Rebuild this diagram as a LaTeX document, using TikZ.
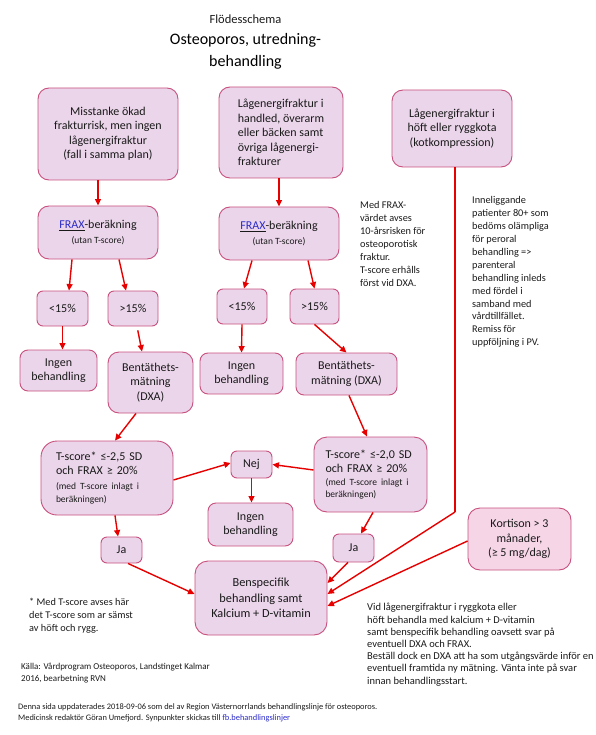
\documentclass[tikz,border=0pt]{standalone}
\usepackage{fontspec}
\setmainfont{Carlito}
\usetikzlibrary{arrows.meta}
\definecolor{boxfill}{HTML}{EBD5EA}
\definecolor{boxfillk}{HTML}{F6D5E7}
\definecolor{boxline}{HTML}{C8507D}
\definecolor{arrred}{HTML}{E60000}
\definecolor{txt}{HTML}{1A1A1A}
\definecolor{linkblue}{HTML}{2B2BC8}
\begin{document}
\begin{tikzpicture}[x=1pt,y=-1pt,
  box/.style={draw=boxline, fill=boxfill, rounded corners=11pt, line width=0.9pt,
    inner sep=0pt, font=\fontsize{12}{14.5}\selectfont, text=txt, align=center},
  sbox/.style={box, rounded corners=6pt},
  arr/.style={draw=arrred, line width=1.4pt, -{Triangle[length=6.5pt,width=6pt]}},
  line/.style={draw=arrred, line width=1.4pt},
  note/.style={font=\fontsize{10.3}{13}\selectfont, align=left, inner sep=0pt, anchor=north west, text=txt},
  small/.style={font=\fontsize{9.5}{13}\selectfont}
]
\useasboundingbox (0,0) rectangle (595,735);

% title
\node[font=\fontsize{12.5}{15}\selectfont, text=txt] (t1) at (245.5,19) {Flödesschema};
\node[font=\fontsize{16}{22}\selectfont, align=center, text=black] (t2) at (245.5,51) {Osteoporos, utredning-\\behandling};

% top boxes
\node[box, minimum width=140pt, minimum height=92pt] (A) at (108,134)
  {Misstanke ökad\\frakturrisk, men ingen\\lågenergifraktur\\(fall i samma plan)};
\node[box, align=left, minimum width=124pt, minimum height=91pt] (B) at (281,132.5)
  {Lågenergifraktur i\\handled, överarm\\eller bäcken samt\\övriga lågenergi-\\frakturer};
\node[box, minimum width=120pt, minimum height=77pt] (C) at (452,128.5)
  {Lågenergifraktur i\\höft eller ryggkota\\(kotkompression)};

% FRAX
\node[box, minimum width=120pt, minimum height=53pt] (fraxL) at (98,232.5)
  {\underline{\textcolor{linkblue}{FRAX}}-beräkning\\{\fontsize{9.5}{11}\selectfont (utan T-score)}};
\node[box, minimum width=120pt, minimum height=53pt] (fraxR) at (279,233.5)
  {\underline{\textcolor{linkblue}{FRAX}}-beräkning\\{\fontsize{9.5}{11}\selectfont (utan T-score)}};

% percent boxes
\node[sbox, minimum width=51pt, minimum height=35pt] (ltL) at (62.5,308.5) {<15\%};
\node[sbox, minimum width=50pt, minimum height=35pt] (gtL) at (133,308.5) {>15\%};
\node[sbox, minimum width=50pt, minimum height=35pt] (ltR) at (242,306.5) {<15\%};
\node[sbox, minimum width=49pt, minimum height=35pt] (gtR) at (314.5,306.5) {>15\%};

% row 4
\node[box, rounded corners=8pt, minimum width=77pt, minimum height=41pt] (ingenL) at (58.5,370.5) {Ingen\\behandling};
\node[box, minimum width=85pt, minimum height=61pt] (bentL) at (150.5,382.5) {Bentäthets-\\mätning\\(DXA)};
\node[box, rounded corners=8pt, minimum width=83pt, minimum height=41pt] (ingenM) at (241.5,373.5) {Ingen\\behandling};
\node[box, rounded corners=8pt, minimum width=101pt, minimum height=42pt] (bentR) at (346.5,374) {Bentäthets-\\mätning (DXA)};

% T-score
\node[box, rounded corners=16pt, align=left, text width=102pt, minimum width=132pt, minimum height=74pt] (tsL) at (107,478)
  {T-score* ≤-2,5 SD\\och FRAX ≥ 20\%\par\vspace{1.5pt}{\fontsize{9.5}{13}\selectfont (med T-score inlagt i\\beräkningen)\par}};
\node[box, rounded corners=13pt, align=left, text width=90pt, minimum width=113pt, minimum height=75pt] (tsR) at (370.5,474.5)
  {T-score* ≤-2,0 SD\\och FRAX ≥ 20\%\par\vspace{0pt}{\fontsize{9.5}{12.5}\selectfont (med T-score inlagt i\\beräkningen)\par}};

\node[sbox, minimum width=41pt, minimum height=27pt] (nej) at (251.5,464.5) {Nej};
\node[box, rounded corners=8pt, minimum width=85pt, minimum height=43pt] (ingenB) at (250.5,524.5) {Ingen\\behandling};

\node[sbox, minimum width=41pt, minimum height=26pt] (jaL) at (121.5,550) {Ja};
\node[sbox, minimum width=41pt, minimum height=28pt] (jaR) at (353.5,548) {Ja};

\node[box, rounded corners=13pt, font=\fontsize{12.3}{15.5}\selectfont, minimum width=132pt, minimum height=74pt] (bens) at (261,598)
  {Benspecifik\\behandling samt\\Kalcium + D-vitamin};
\node[box, fill=boxfillk, rounded corners=12pt, minimum width=103pt, minimum height=62pt] (kort) at (519.5,539)
  {Kortison > 3\\månader,\\(≥ 5 mg/dag)};

% connectors
\draw[arr] (fraxL.north |- A.south) -- (fraxL.north);
\draw[arr] (fraxR.north |- B.south) -- (fraxR.north);
\draw[arr] ([xshift=-26pt]fraxL.south) -- ([xshift=6.5pt]ltL.north);
\draw[arr] ([xshift=21pt]fraxL.south) -- ([xshift=-7pt]gtL.north);
\draw[arr] ([xshift=-27pt]fraxR.south) -- ([xshift=2pt]ltR.north);
\draw[arr] ([xshift=29pt]fraxR.south) -- (gtR.north);
\draw[arr] (ltL.south) -- (ltL.south |- ingenL.north);
\draw[arr, shorten <=4pt] ([xshift=4pt]gtL.south) -- ([xshift=-8.5pt]bentL.north);
\draw[arr] (ltR.south) -- (ingenM.north);
\draw[arr] (gtR.south) -- (bentR.north);
\draw[arr] ([xshift=-14.5pt]bentL.south) -- ([xshift=8pt]tsL.north);
\draw[arr] ([xshift=2.5pt]bentR.south) -- ([xshift=-3.5pt]tsR.north);
\draw[arr] ([yshift=-2pt]tsL.east) -- ([yshift=1.5pt]nej.west);
\draw[arr] ([yshift=4.5pt]tsR.west) -- (nej.east);
\draw[arr] (nej.south) -- (nej.south |- ingenB.north);
\draw[arr] ([xshift=8pt]tsL.south) -- ([xshift=-3.5pt]jaL.north);
\draw[arr] ([xshift=2.5pt]tsR.south) -- ([xshift=7.5pt]jaR.north);
\draw[arr] ([xshift=6.5pt]jaL.south) -- ([yshift=4pt]bens.west);
\draw[arr] ([xshift=-5.5pt]jaR.south) -- ([yshift=15pt]bens.east);
\coordinate (cbend) at (455,512);
\draw[line] ([xshift=3pt]C.south) -- (cbend);
\draw[arr] (cbend) -- ([yshift=4pt]bens.east);
\draw[arr] ([yshift=-2pt]kort.west) -- ([yshift=-8pt]bens.east);

% notes
\node[note] (n1) at (360,201.5)
  {Med FRAX-\\värdet avses\\10-årsrisken för\\osteoporotisk\\fraktur.\\T-score erhålls\\först vid DXA.};
\node[note, font=\fontsize{10.3}{12.9}\selectfont] (n2) at (472,196.5)
  {Inneliggande\\patienter 80+ som\\bedöms olämpliga\\för peroral\\behandling =>\\parenteral\\behandling inleds\\med fördel i\\samband med\\vårdtillfället.\\Remiss för\\uppföljning i PV.};
\node[note, font=\fontsize{10.3}{12.7}\selectfont] (n3) at (29,598.4)
  {* Med T-score avses här\\det T-score som ar sämst\\av höft och rygg.};
\node[note, font=\fontsize{10.5}{12.2}\selectfont] (n4) at (367,603.3)
  {Vid lågenergifraktur i ryggkota eller\\höft behandla med kalcium + D-vitamin\\samt benspecifik behandling oavsett svar på\\eventuell DXA och FRAX.\\Beställ dock en DXA att ha som utgångsvärde inför en\\eventuell framtida ny mätning. Vänta inte på svar\\innan behandlingsstart.};
\node[note, font=\fontsize{9}{12}\selectfont] (n5) at (21,662.5)
  {Källa: Vårdprogram Osteoporos, Landstinget Kalmar\\2016, bearbetning RVN};
\node[note, font=\fontsize{8.4}{11}\selectfont] (n6) at (18,703)
  {Denna sida uppdaterades 2018-09-06 som del av Region Västernorrlands behandlingslinje för osteoporos.\\Medicinsk redaktör Göran Umefjord. Synpunkter skickas till \textcolor{linkblue}{fb.behandlingslinjer}};
\end{tikzpicture}
\end{document}
